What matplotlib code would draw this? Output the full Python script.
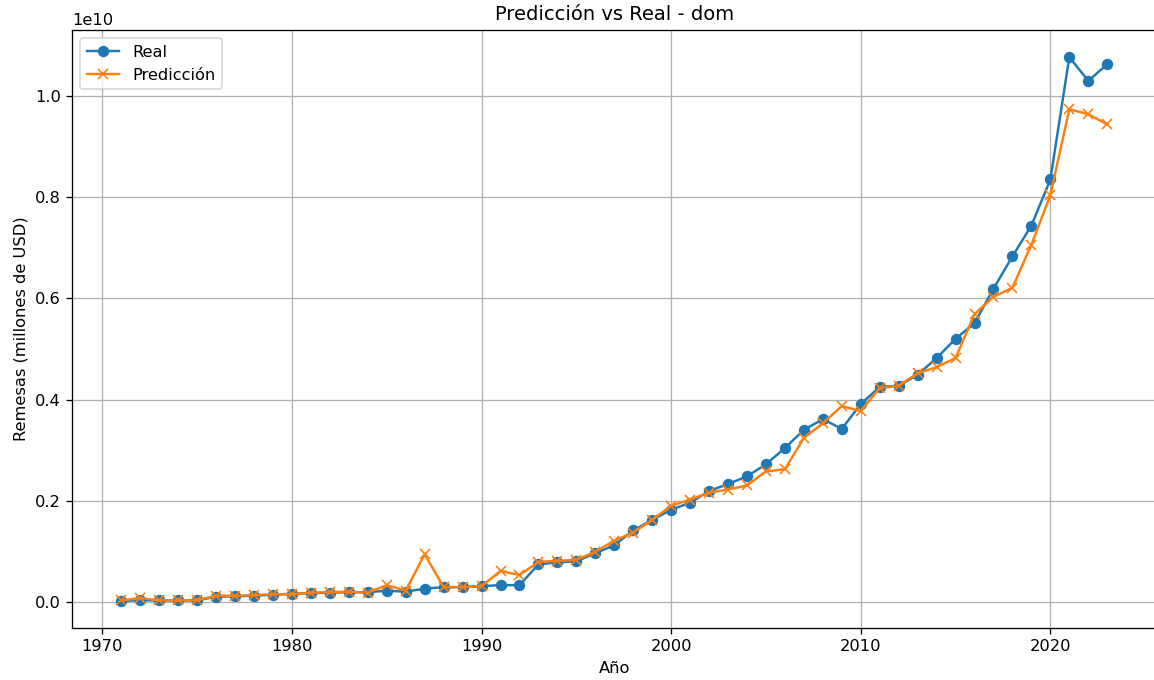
import numpy as np
import matplotlib
matplotlib.use("Agg")
import matplotlib.pyplot as plt

# Años
anios = list(range(1971, 2024))

# Remesas reales (en miles de millones, se escalan abajo)
real = [0.02, 0.03, 0.03, 0.03, 0.03, 0.10, 0.11, 0.12, 0.14, 0.16,
        0.17, 0.18, 0.19, 0.19, 0.22, 0.20, 0.26, 0.29, 0.29, 0.31,
        0.33, 0.33, 0.74, 0.78, 0.80, 0.96, 1.12, 1.41, 1.62, 1.82,
        1.96, 2.19, 2.33, 2.48, 2.72, 3.04, 3.40, 3.61, 3.42, 3.91,
        4.25, 4.27, 4.49, 4.82, 5.20, 5.51, 6.19, 6.83, 7.44, 8.35,
        10.77, 10.30, 10.63]

# Predicción del modelo
prediccion = [0.03, 0.07, 0.03, 0.03, 0.03, 0.12, 0.12, 0.13, 0.15, 0.15,
              0.18, 0.19, 0.20, 0.18, 0.33, 0.22, 0.94, 0.29, 0.29, 0.31,
              0.61, 0.53, 0.79, 0.81, 0.83, 0.99, 1.21, 1.37, 1.62, 1.90,
              2.02, 2.16, 2.22, 2.30, 2.58, 2.62, 3.24, 3.53, 3.87, 3.77,
              4.23, 4.27, 4.52, 4.64, 4.82, 5.69, 6.03, 6.21, 7.06, 8.04,
              9.74, 9.64, 9.44]

real = np.array(real) * 1e9
prediccion = np.array(prediccion) * 1e9

dpi = 117
fig, ax = plt.subplots(figsize=(1154 / dpi, 680 / dpi), dpi=dpi)
fig.subplots_adjust(left=0.0624, right=1.0022, top=0.956, bottom=0.0765)

ax.plot(anios, real, marker='o', label='Real')
ax.plot(anios, prediccion, marker='x', label='Predicción')

ax.set_title("Predicción vs Real - dom")
ax.set_xlabel("Año")
ax.set_ylabel("Remesas (millones de USD)")
ax.legend(loc='upper left')
ax.grid(True)

fig.savefig("out.png", dpi=dpi)
